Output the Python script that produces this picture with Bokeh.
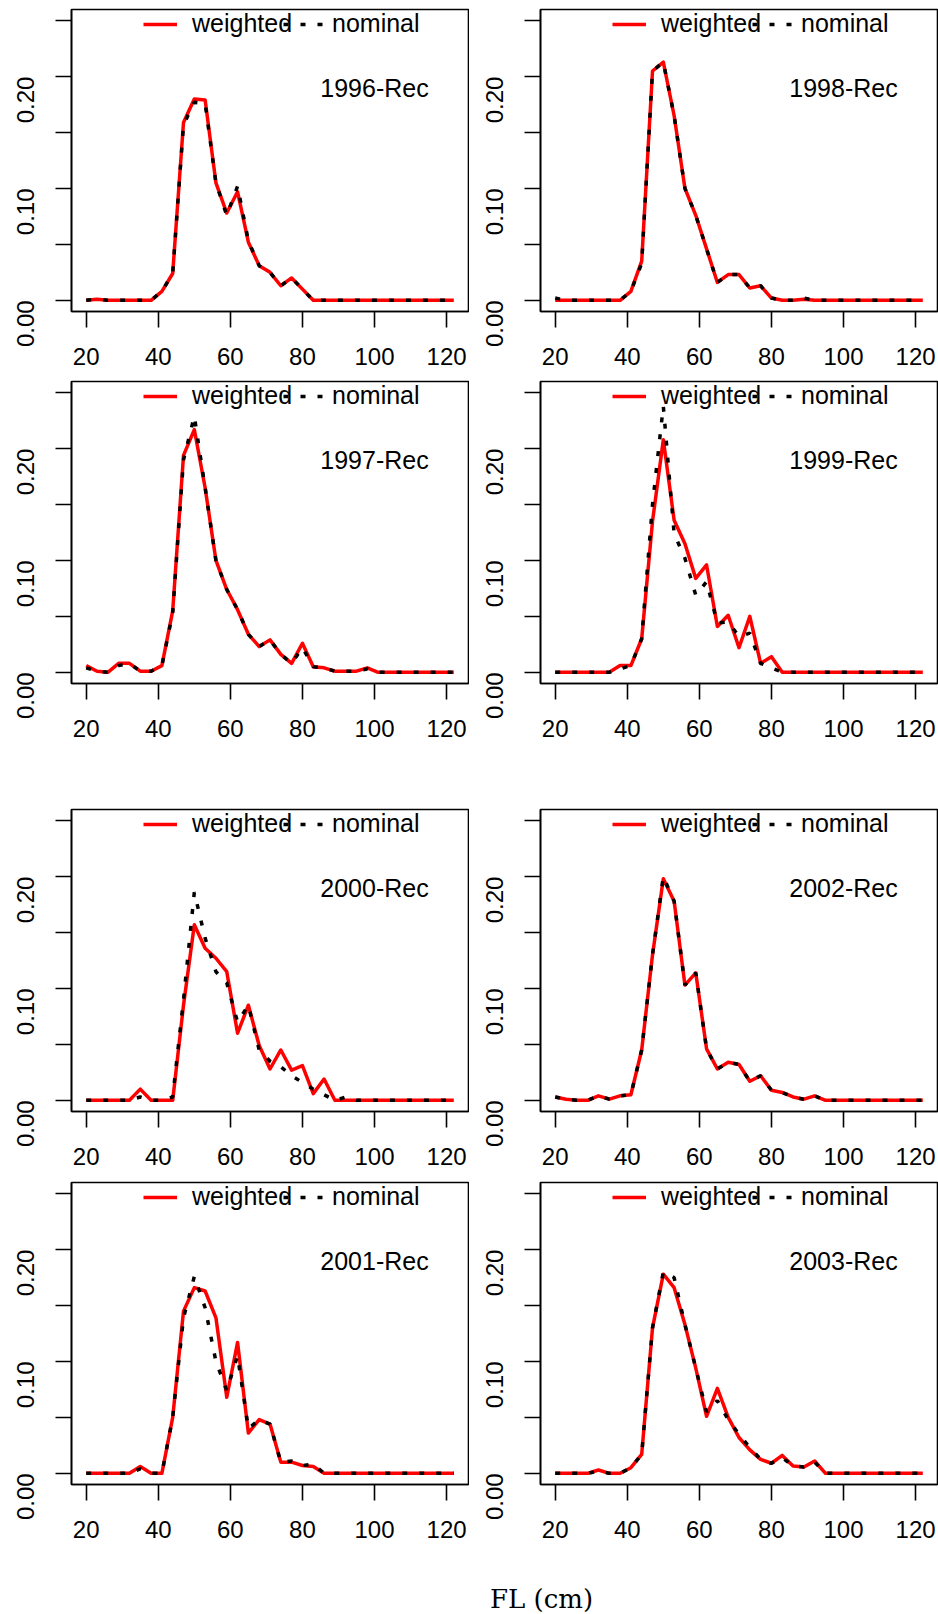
import math
from bokeh.plotting import figure
from bokeh.models import (Range1d, FixedTicker, PrintfTickFormatter, Label, Legend,
                          LegendItem, Div, ColumnDataSource)
from bokeh.layouts import column, row
from bokeh.embed import file_html
from bokeh.resources import INLINE

# ---------------- data ----------------
fl_cm = [20, 23, 26, 29, 32, 35, 38, 41, 44, 47, 50, 53, 56, 59, 62, 65, 68, 71,
         74, 77, 80, 83, 86, 89, 92, 95, 98, 101, 104, 107, 110, 113, 116, 119, 122]

x_ticks = [20, 40, 60, 80, 100, 120]
y_major = [0.0, 0.10, 0.20]
y_minor = [0.05, 0.15, 0.25]
y_lim = [0.0, 0.25]

w_1996 = [0, 0.001, 0, 0, 0, 0, 0, 0.008, 0.024, 0.159, 0.180, 0.179, 0.105, 0.078, 0.097, 0.052, 0.031, 0.025,
          0.013, 0.020, 0.010, 0, 0, 0, 0, 0, 0, 0, 0, 0, 0, 0, 0, 0, 0]
n_1996 = [0, 0.001, 0, 0, 0, 0, 0, 0.008, 0.024, 0.157, 0.177, 0.176, 0.105, 0.076, 0.102, 0.053, 0.031, 0.025,
          0.013, 0.020, 0.010, 0, 0, 0, 0, 0, 0, 0, 0, 0, 0, 0, 0, 0, 0]

w_1998 = [0, 0, 0, 0, 0, 0, 0, 0.008, 0.035, 0.205, 0.213, 0.165, 0.100, 0.076, 0.046, 0.016, 0.023, 0.023,
          0.011, 0.013, 0.002, 0, 0, 0.001, 0, 0, 0, 0, 0, 0, 0, 0, 0, 0, 0]
n_1998 = [0.002, 0, 0, 0, 0, 0, 0, 0.008, 0.033, 0.205, 0.213, 0.165, 0.100, 0.076, 0.046, 0.016, 0.023, 0.023,
          0.011, 0.013, 0.002, 0, 0, 0.002, 0, 0, 0, 0, 0, 0, 0, 0, 0, 0, 0]

w_1997 = [0.006, 0.001, 0, 0.008, 0.008, 0.001, 0.001, 0.006, 0.055, 0.194, 0.217, 0.165, 0.100, 0.074, 0.056,
          0.034, 0.023, 0.029, 0.016, 0.008, 0.026, 0.005, 0.004, 0.001, 0.001, 0.001, 0.004, 0, 0, 0, 0, 0, 0, 0, 0]
n_1997 = [0.004, 0.001, 0, 0.006, 0.008, 0.001, 0.001, 0.006, 0.053, 0.190, 0.229, 0.165, 0.100, 0.074, 0.056,
          0.034, 0.023, 0.029, 0.016, 0.008, 0.022, 0.005, 0.004, 0.001, 0.001, 0.001, 0.003, 0, 0, 0, 0, 0, 0, 0, 0]

w_1999 = [0, 0, 0, 0, 0, 0, 0.006, 0.006, 0.030, 0.135, 0.208, 0.136, 0.115, 0.084, 0.096, 0.041, 0.051, 0.022,
          0.050, 0.008, 0.014, 0, 0, 0, 0, 0, 0, 0, 0, 0, 0, 0, 0, 0, 0]
n_1999 = [0, 0, 0, 0, 0, 0, 0.003, 0.006, 0.030, 0.150, 0.238, 0.124, 0.102, 0.069, 0.081, 0.044, 0.045, 0.032,
          0.035, 0.008, 0.004, 0, 0, 0, 0, 0, 0, 0, 0, 0, 0, 0, 0, 0, 0]

w_2000 = [0, 0, 0, 0, 0, 0.010, 0, 0, 0, 0.085, 0.157, 0.136, 0.127, 0.115, 0.060, 0.085, 0.049, 0.028,
          0.045, 0.027, 0.031, 0.006, 0.019, 0, 0, 0, 0, 0, 0, 0, 0, 0, 0, 0, 0]
n_2000 = [0, 0, 0, 0, 0, 0.003, 0, 0, 0.003, 0.090, 0.186, 0.145, 0.115, 0.105, 0.070, 0.085, 0.045, 0.035,
          0.030, 0.022, 0.016, 0.010, 0.005, 0, 0.003, 0, 0, 0, 0, 0, 0, 0, 0, 0, 0]

w_2002 = [0.003, 0.001, 0, 0, 0.004, 0.001, 0.004, 0.005, 0.045, 0.130, 0.198, 0.178, 0.103, 0.114, 0.046, 0.028,
          0.034, 0.032, 0.017, 0.022, 0.009, 0.007, 0.003, 0.001, 0.004, 0, 0, 0, 0, 0, 0, 0, 0, 0, 0]
n_2002 = [0.003, 0.001, 0, 0, 0.004, 0.001, 0.004, 0.005, 0.045, 0.130, 0.200, 0.178, 0.103, 0.114, 0.046, 0.028,
          0.034, 0.032, 0.017, 0.022, 0.009, 0.007, 0.003, 0.001, 0.004, 0, 0, 0, 0, 0, 0, 0, 0, 0, 0]

w_2001 = [0, 0, 0, 0, 0, 0.006, 0, 0, 0.050, 0.145, 0.166, 0.163, 0.139, 0.068, 0.117, 0.036, 0.048, 0.044,
          0.010, 0.010, 0.007, 0.006, 0, 0, 0, 0, 0, 0, 0, 0, 0, 0, 0, 0, 0]
n_2001 = [0, 0, 0, 0, 0, 0.004, 0, 0, 0.050, 0.139, 0.176, 0.148, 0.100, 0.074, 0.105, 0.040, 0.048, 0.044,
          0.010, 0.011, 0.007, 0.008, 0, 0, 0, 0, 0, 0, 0, 0, 0, 0, 0, 0, 0]

w_2003 = [0, 0, 0, 0, 0.003, 0, 0, 0.005, 0.017, 0.130, 0.178, 0.166, 0.133, 0.094, 0.051, 0.076, 0.050, 0.032,
          0.021, 0.0125, 0.009, 0.016, 0.0065, 0.0057, 0.011, 0, 0, 0, 0, 0, 0, 0, 0, 0, 0]
n_2003 = [0, 0, 0, 0, 0.002, 0, 0, 0.005, 0.017, 0.130, 0.180, 0.175, 0.133, 0.094, 0.055, 0.065, 0.048, 0.035,
          0.023, 0.0125, 0.009, 0.014, 0.0065, 0.0057, 0.010, 0, 0, 0, 0, 0, 0, 0, 0, 0, 0]

panel_labels = [["1996-Rec", "1998-Rec"], ["1997-Rec", "1999-Rec"],
                ["2000-Rec", "2002-Rec"], ["2001-Rec", "2003-Rec"]]
panel_weighted = [[w_1996, w_1998], [w_1997, w_1999], [w_2000, w_2002], [w_2001, w_2003]]
panel_nominal = [[n_1996, n_1998], [n_1997, n_1999], [n_2000, n_2002], [n_2001, n_2003]]
legend_labels = ["weighted", "nominal"]
x_title = "FL (cm)"

# ---------------- style ----------------
SANS = "Liberation Sans"
FRAME_W, FRAME_H = 397, 302
LEG_H = 26
LEG_TOP = 3                 # legend box offset below the frame top (px)
LEG_X = [72, 212]           # left edge of each legend entry (px from frame left)
LEG_GLYPH_W = [34, 40]
LEG_STANDOFF = [15, 9]
row_borders = [(9, 68), (2, 124), (2, 69), (2, 70)]


def legend_box(item, k):
    return Legend(items=[item], orientation="horizontal",
                  location=(LEG_X[k], FRAME_H - LEG_H - LEG_TOP),
                  padding=0, margin=0, spacing=0,
                  glyph_width=LEG_GLYPH_W[k], glyph_height=LEG_H, label_height=LEG_H,
                  label_standoff=LEG_STANDOFF[k],
                  label_text_font=SANS, label_text_font_size="25px",
                  label_text_color="black",
                  border_line_alpha=0, background_fill_alpha=0)


def make_panel(label, wts, nom, top, bottom):
    xmin, xmax = min(fl_cm), max(fl_cm)
    xpad = 0.04 * (xmax - xmin)
    ypad = 0.04 * (y_lim[1] - y_lim[0])
    p = figure(frame_width=FRAME_W, frame_height=FRAME_H,
               x_range=Range1d(xmin - xpad, xmax + xpad),
               y_range=Range1d(y_lim[0] - ypad, y_lim[1] + ypad),
               output_backend="svg", toolbar_location=None,
               min_border_left=71, min_border_right=1,
               min_border_top=top, min_border_bottom=bottom,
               background_fill_color="white", border_fill_color="white")
    p.grid.visible = False
    p.outline_line_color = "black"
    p.outline_line_width = 1.6

    src = ColumnDataSource(dict(x=fl_cm, w=wts, n=nom))
    r_w = p.line("x", "w", source=src, line_color="#ff0000", line_width=3.5, line_join="round")
    r_n = p.line("x", "n", source=src, line_color="black", line_width=3.5, line_dash="5 12")

    # axes
    xa = p.xaxis[0]
    xa.ticker = FixedTicker(ticks=x_ticks)
    ya = p.yaxis[0]
    ya.ticker = FixedTicker(ticks=y_major, minor_ticks=y_minor)
    ya.formatter = PrintfTickFormatter(format="%.2f")
    ya.major_label_orientation = math.pi / 2
    for ax in (xa, ya):
        ax.axis_line_color = "black"
        ax.axis_line_width = 1.6
        ax.major_tick_line_color = "black"
        ax.major_tick_line_width = 1.6
        ax.major_tick_out = 16
        ax.major_tick_in = 0
        ax.major_label_text_font = SANS
        ax.major_label_text_font_size = "24px"
        ax.major_label_text_color = "black"
    xa.major_label_standoff = 20
    ya.major_label_standoff = 30
    xa.minor_tick_line_color = None
    ya.minor_tick_line_color = "black"
    ya.minor_tick_line_width = 1.6
    ya.minor_tick_out = 16
    ya.minor_tick_in = 0

    # legend: two entries placed side by side (R-style horizontal legend)
    p.add_layout(legend_box(LegendItem(label=legend_labels[0], renderers=[r_w]), 0), "center")
    p.add_layout(legend_box(LegendItem(label=legend_labels[1], renderers=[r_n]), 1), "center")

    p.add_layout(Label(x=100, y=0.19, text=label, text_align="center", text_baseline="middle",
                       text_font=SANS, text_font_size="25px", text_color="black"))
    return p


rows = []
for ri in range(4):
    top, bottom = row_borders[ri]
    figs = [make_panel(panel_labels[ri][ci], panel_weighted[ri][ci], panel_nominal[ri][ci], top, bottom)
            for ci in range(2)]
    rows.append(row(*figs))

xlabel = Div(text='<div style="margin-top:22px; margin-left:485px; font-family:\'DejaVu Serif\'; '
                  'font-size:26px; color:black; white-space:nowrap;">' + x_title + '</div>',
             width=937, height=60)

layout = column(*rows, xlabel)

open("out.html", "w").write(file_html(layout, INLINE))
